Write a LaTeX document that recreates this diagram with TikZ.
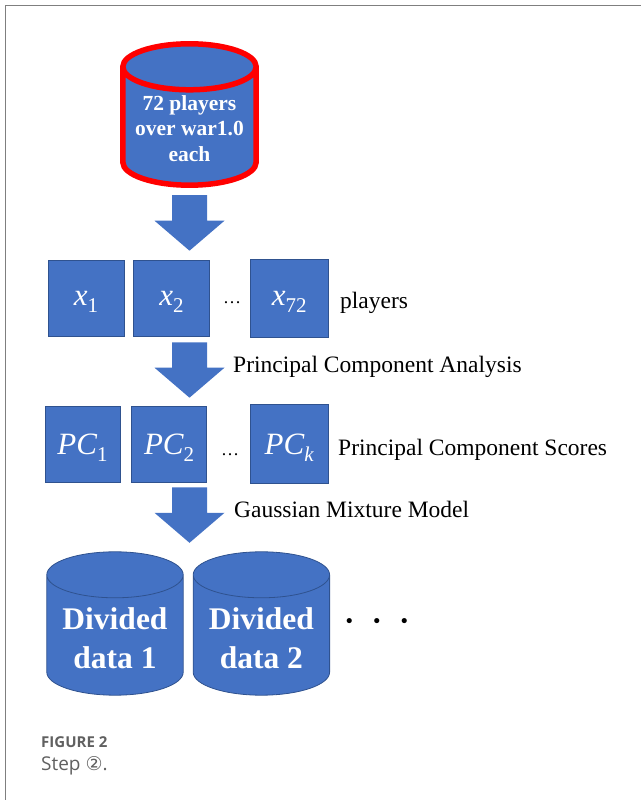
\documentclass[tikz,border=0pt]{standalone}
\usepackage{fontspec}
\setmainfont{Liberation Serif}
\newfontfamily\capfont{Open Sans}
\newfontfamily\symfont{DejaVu Sans}
\usetikzlibrary{positioning,calc,backgrounds}

\definecolor{officeblue}{HTML}{4472C4}
\definecolor{edgeblue}{HTML}{2F528F}
\definecolor{dbred}{HTML}{FF0000}
\definecolor{capgray}{HTML}{606060}
\definecolor{framegray}{HTML}{7F7F7F}

\tikzset{
  box/.style={draw=edgeblue, line width=0.6pt, fill=officeblue, text=white,
    minimum width=76pt, minimum height=76pt, inner sep=0pt,
    font=\itshape\fontsize{31}{33}\selectfont},
  drum/.style={inner sep=0pt, minimum width=136pt, minimum height=143pt},
  dbtext/.style={text=white, align=center, font=\bfseries\fontsize{21.5}{25.5}\selectfont},
  divtext/.style={text=white, align=center, font=\bfseries\fontsize{31.5}{39}\selectfont},
  note/.style={anchor=base west, inner sep=0pt, font=\fontsize{23.5}{28}\selectfont},
  gap/.style={inner sep=0pt, font=\fontsize{18}{20}\selectfont},
  bigarrow/.style={fill=officeblue},
}

\newcommand{\idx}[1]{\raisebox{-7pt}[\height][0pt]{\fontsize{21}{22}\selectfont #1}}

\newcommand{\drumbody}[3]{%
  \filldraw[#3] let \p1=(#1.south west), \p2=(#1.north east),
    \n1={(\x2-\x1)/2} in
    (\x1,\y2-#2) -- (\x1,\y1+#2)
    arc[start angle=180, end angle=360, x radius=\n1, y radius=#2]
    -- (\x2,\y2-#2)
    arc[start angle=0, end angle=180, x radius=\n1, y radius=#2] -- cycle
    (\x1,\y2-#2)
    arc[start angle=180, end angle=360, x radius=\n1, y radius=#2];}

\newcommand{\blockarrow}[2]{%
  \fill[bigarrow] let \p1=(#1), \p2=(#2) in
    (\x1-17.5pt,\y1) -- (\x1+17.5pt,\y1) -- (\x1+17.5pt,\y2+30pt)
    -- (\x1+35pt,\y2+30pt) -- (\x1,\y2) -- (\x1-35pt,\y2+30pt)
    -- (\x1-17.5pt,\y2+30pt) -- cycle;}

\begin{document}
\begin{tikzpicture}[x=1pt, y=1pt]
  \useasboundingbox (0,0) rectangle (641,800);
  \draw[framegray, line width=1.3pt] (5.5,0) -- (5.5,794.5) -- (641,794.5);

  \node[drum, minimum width=133pt, minimum height=141pt] (db) at (189.5,685.5) {};
  \node[dbtext] (dbtext) at ([yshift=-14pt]db.center) {72 players\\over war1.0\\each};

  \node[box] (x1) at (86,502) {x\idx{\upshape 1}};
  \node[box, right=9pt of x1] (x2) {x\idx{\upshape 2}};
  \node[box, right=40pt of x2, minimum width=78pt, minimum height=78pt] (x72) {x\idx{\upshape 72}};
  \node[gap] (xdots) at (232,497) {\dots};
  \node[note] (players) at (340,491) {players};

  \node[box, minimum width=75pt] (pc1) at (82.5,356) {PC\idx{\upshape 1}};
  \node[box, minimum width=75pt, right=11pt of pc1] (pc2) {PC\idx{\upshape 2}};
  \node[box, right=43pt of pc2, minimum width=78pt, minimum height=79pt] (pck) {PC\idx{k}};
  \node[gap] (pcdots) at (230,345) {\dots};
  \node[note] (scores) at (338,344) {Principal Component Scores};

  \node[note] (pca) at (233,427) {Principal Component Analysis};
  \node[note] (gmm) at (234,282) {Gaussian Mixture Model};

  \node[drum] (div1) at (115,176.5) {};
  \node[drum, right=10pt of div1] (div2) {};
  \node[divtext] (div1text) at ([yshift=-15pt]div1.center) {Divided\\data 1};
  \node[divtext] (div2text) at ([yshift=-15pt]div2.center) {Divided\\data 2};
  \node[font=\bfseries\fontsize{31.5}{39}\selectfont] (more) at (377,175)
    {·\hspace{17pt}·\hspace{17pt}·};

  \begin{pgfonlayer}{background}
    \drumbody{db}{23pt}{fill=officeblue, draw=dbred, line width=5.5pt}
    \drumbody{div1}{23pt}{fill=officeblue, draw=edgeblue, line width=0.8pt}
    \drumbody{div2}{23pt}{fill=officeblue, draw=edgeblue, line width=0.8pt}
  \end{pgfonlayer}

  \blockarrow{[yshift=-10pt]db.south}{[yshift=9pt]db |- x2.north}
  \blockarrow{[yshift=-6pt]db |- x2.south}{[yshift=8pt]db |- pc2.north}
  \blockarrow{[yshift=-5pt]db |- pc2.south}{[yshift=9pt]db |- div1.north}

  \node[anchor=base west, inner sep=0pt, text=capgray,
    font=\capfont\bfseries\fontsize{15}{18}\selectfont] (figlabel) at (41,52) {FIGURE 2};
  \node[anchor=base west, inner sep=0pt, text=capgray,
    font=\capfont\fontsize{19}{22}\selectfont] (figcaption) at (41,29) {Step {\symfont ②}.};
\end{tikzpicture}
\end{document}
